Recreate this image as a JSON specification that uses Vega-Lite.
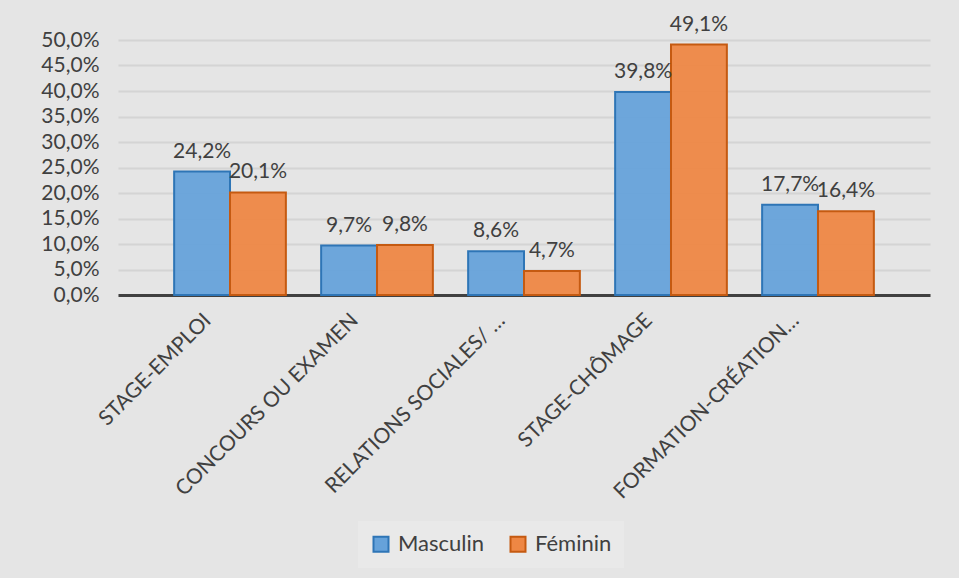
{
  "$schema": "https://vega.github.io/schema/vega-lite/v6.json",
  "width": 812,
  "height": 255,
  "autosize": {"type": "none"},
  "padding": {"left": 118, "top": 40, "right": 29, "bottom": 283},
  "background": "#e5e5e5",
  "config": {
    "font": "Lato",
    "locale": {"number": {"decimal": ",", "thousands": " ", "grouping": [3], "currency": ["", " €"]}},
    "view": {"stroke": null},
    "axis": {"labelFont": "Lato", "labelColor": "#404040"}
  },
  "data": {
    "values": [
      {"categorie": "STAGE-EMPLOI", "sexe": "Masculin", "part": 0.242},
      {"categorie": "STAGE-EMPLOI", "sexe": "Féminin", "part": 0.201},
      {"categorie": "CONCOURS OU EXAMEN", "sexe": "Masculin", "part": 0.097},
      {"categorie": "CONCOURS OU EXAMEN", "sexe": "Féminin", "part": 0.098},
      {"categorie": "RELATIONS SOCIALES/ …", "sexe": "Masculin", "part": 0.086},
      {"categorie": "RELATIONS SOCIALES/ …", "sexe": "Féminin", "part": 0.047},
      {"categorie": "STAGE-CHÔMAGE", "sexe": "Masculin", "part": 0.398},
      {"categorie": "STAGE-CHÔMAGE", "sexe": "Féminin", "part": 0.491},
      {"categorie": "FORMATION-CRÉATION…", "sexe": "Masculin", "part": 0.177},
      {"categorie": "FORMATION-CRÉATION…", "sexe": "Féminin", "part": 0.164}
    ]
  },
  "encoding": {
    "x": {
      "field": "categorie",
      "type": "nominal",
      "sort": null,
      "scale": {"paddingInner": 0.24, "paddingOuter": 0.382},
      "axis": {
        "title": null,
        "labelAngle": -45,
        "labelAlign": "right",
        "labelBaseline": "middle",
        "labelFontSize": 21,
        "labelPadding": 22,
        "labelOffset": -22,
        "labelLimit": 400,
        "ticks": false,
        "domainColor": "#404040",
        "domainWidth": 3,
        "grid": false
      }
    },
    "xOffset": {
      "field": "sexe",
      "type": "nominal",
      "sort": ["Masculin", "Féminin"],
      "scale": {"paddingInner": 0, "paddingOuter": 0}
    },
    "y": {
      "field": "part",
      "type": "quantitative",
      "scale": {"domain": [0, 0.5], "nice": false},
      "axis": {
        "title": null,
        "format": ".1%",
        "values": [0, 0.05, 0.1, 0.15, 0.2, 0.25, 0.3, 0.35, 0.4, 0.45, 0.5],
        "labelFontSize": 21,
        "labelPadding": 19,
        "ticks": false,
        "domain": false,
        "gridColor": "#d4d4d4",
        "gridWidth": 2
      }
    }
  },
  "layer": [
    {
      "mark": {"type": "bar", "strokeWidth": 2, "fillOpacity": 0.95},
      "encoding": {
        "fill": {
          "field": "sexe",
          "type": "nominal",
          "sort": ["Masculin", "Féminin"],
          "scale": {"domain": ["Masculin", "Féminin"], "range": ["#66a2da", "#ee8744"]},
          "legend": {
            "title": null,
            "orient": "none",
            "direction": "horizontal",
            "legendX": 240,
            "legendY": 481,
            "fillColor": "#e9e9e9",
            "padding": 12,
            "symbolType": "square",
            "symbolSize": 225,
            "symbolStrokeWidth": 2,
            "symbolOpacity": 1,
            "labelFontSize": 22,
            "labelColor": "#404040",
            "labelFont": "Lato",
            "columnPadding": 21,
            "labelOffset": 6
          }
        },
        "stroke": {
          "field": "sexe",
          "type": "nominal",
          "sort": ["Masculin", "Féminin"],
          "scale": {"domain": ["Masculin", "Féminin"], "range": ["#2e75b6", "#c55a11"]},
          "legend": {
            "title": null,
            "orient": "none",
            "direction": "horizontal",
            "legendX": 240,
            "legendY": 481,
            "fillColor": "#e9e9e9",
            "padding": 12,
            "symbolType": "square",
            "symbolSize": 225,
            "symbolStrokeWidth": 2,
            "symbolOpacity": 1,
            "labelFontSize": 22,
            "labelColor": "#404040",
            "labelFont": "Lato",
            "columnPadding": 21,
            "labelOffset": 6
          }
        }
      }
    },
    {
      "mark": {"type": "text", "baseline": "bottom", "dy": -10, "fontSize": 21, "color": "#404040", "font": "Lato"},
      "encoding": {
        "text": {"field": "part", "type": "quantitative", "format": ".1%"}
      }
    }
  ]
}
